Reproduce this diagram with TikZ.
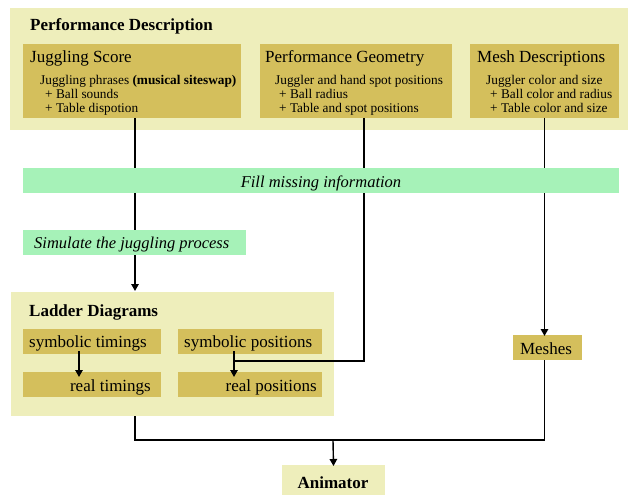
\documentclass[tikz,border=0pt]{standalone}
\usepackage{fontspec}
\setmainfont{Liberation Serif}
\usetikzlibrary{calc,arrows.meta}
\definecolor{lightY}{RGB}{238,238,187}
\definecolor{darkY}{RGB}{212,191,92}
\definecolor{grn}{RGB}{166,242,184}
\begin{document}
\begin{tikzpicture}[x=1pt,y=-1pt,
  box/.style={anchor=north west, inner sep=0pt, outer sep=0pt},
  outerbox/.style={box, fill=lightY},
  innerbox/.style={box, fill=darkY},
  greenbox/.style={box, fill=grn},
  big/.style={font=\fontsize{17}{20}\selectfont},
  bigb/.style={font=\fontsize{17}{20}\selectfont\bfseries},
  bigi/.style={font=\fontsize{16.5}{20}\selectfont\itshape},
  small/.style={font=\fontsize{13.3}{13.5}\selectfont},
  lbl/.style={inner sep=0pt, anchor=base west},
  lblr/.style={inner sep=0pt, anchor=base east},
  lblc/.style={inner sep=0pt, anchor=base},
  arr/.style={-{Triangle[length=7pt,width=7.5pt]}, line width=1.4pt},
  conn/.style={line width=1.4pt}
]
\useasboundingbox (0,0) rectangle (633,495);
% outer boxes
\node[outerbox, minimum width=618, minimum height=122] (perf) at (10,8) {};
\node[outerbox, minimum width=323, minimum height=124] (lad) at (11,292) {};
\node[outerbox, minimum width=103, minimum height=31] (an) at (282,465) {};
% inner boxes
\node[innerbox, minimum width=218, minimum height=74] (js) at (23,44) {};
\node[innerbox, minimum width=192, minimum height=74] (pg) at (260,44) {};
\node[innerbox, minimum width=149, minimum height=74] (md) at (470,44) {};
\node[innerbox, minimum width=138, minimum height=25] (st) at (23,329) {};
\node[innerbox, minimum width=144, minimum height=25] (sp) at (178,329) {};
\node[innerbox, minimum width=138, minimum height=25] (rt) at (23,372) {};
\node[innerbox, minimum width=144, minimum height=25] (rp) at (178,372) {};
\node[innerbox, minimum width=69, minimum height=25] (me) at (513,335) {};
% texts
\node[lbl, bigb] (tperf) at (30,31) {Performance Description};
\node[lbl, big] (tjs) at (30,63) {Juggling Score};
\node[lbl, small] (tjs1) at (40,85) {Juggling phrases \textbf{(musical siteswap)}};
\node[lbl, small] (tjs2) at (45,99) {+ Ball sounds};
\node[lbl, small] (tjs3) at (45,112.5) {+ Table dispotion};
\node[lbl, big] (tpg) at (265,63) {Performance Geometry};
\node[lbl, small] (tpg1) at (275,85) {Juggler and hand spot positions};
\node[lbl, small] (tpg2) at (279,99) {+ Ball radius};
\node[lbl, small] (tpg3) at (279,112.5) {+ Table and spot positions};
\node[lbl, big] (tmd) at (477,63) {Mesh Descriptions};
\node[lbl, small] (tmd1) at (486,85) {Juggler color and size};
\node[lbl, small] (tmd2) at (490,99) {+ Ball color and radius};
\node[lbl, small] (tmd3) at (490,112.5) {+ Table color and size};
\node[lbl, bigb] (tlad) at (29,316) {Ladder Diagrams};
\node[lbl, big] (tst) at (29,347) {symbolic timings};
\node[lbl, big] (tsp) at (184,347) {symbolic positions};
\node[lblr, big] (trt) at (151,391) {real timings};
\node[lblr, big] (trp) at (317,391) {real positions};
\node[lblc, big] (tme) at (546,354) {Meshes};
\node[lblc, bigb] (tan) at (333,488) {Animator};
% connectors
\coordinate (jn) at (234,361);
\coordinate (bot) at (333,440);
\draw[arr] ([xshift=3]js.south) -- ([shift={(3,-1)}]js.south |- lad.north);
\draw[conn] ([xshift=8]pg.south) |- (jn);
\draw[arr] ([shift={(56,-3)}]st.south west) -- ([shift={(56,5)}]rt.north west);
\draw[arr] ([shift={(56,-3)}]sp.south west) -- ([shift={(56,5)}]rp.north west);
\draw[arr] (md.south) -- ([yshift=-1]md.south |- me.north);
\draw[conn] ([xshift=124]lad.south west) |- (bot) -| (md.south |- me.south);
\draw[arr] (bot) -- ([yshift=-1]an.north);
% green process boxes (on top of connectors)
\node[greenbox, minimum width=596, minimum height=25] (fill) at (23,168) {};
\node[lblc, bigi] (tfill) at (321,187) {Fill missing information};
\node[greenbox, minimum width=223, minimum height=25] (sim) at (23,230) {};
\node[lbl, bigi] (tsim) at (34,248) {Simulate the juggling process};
\end{tikzpicture}
\end{document}
